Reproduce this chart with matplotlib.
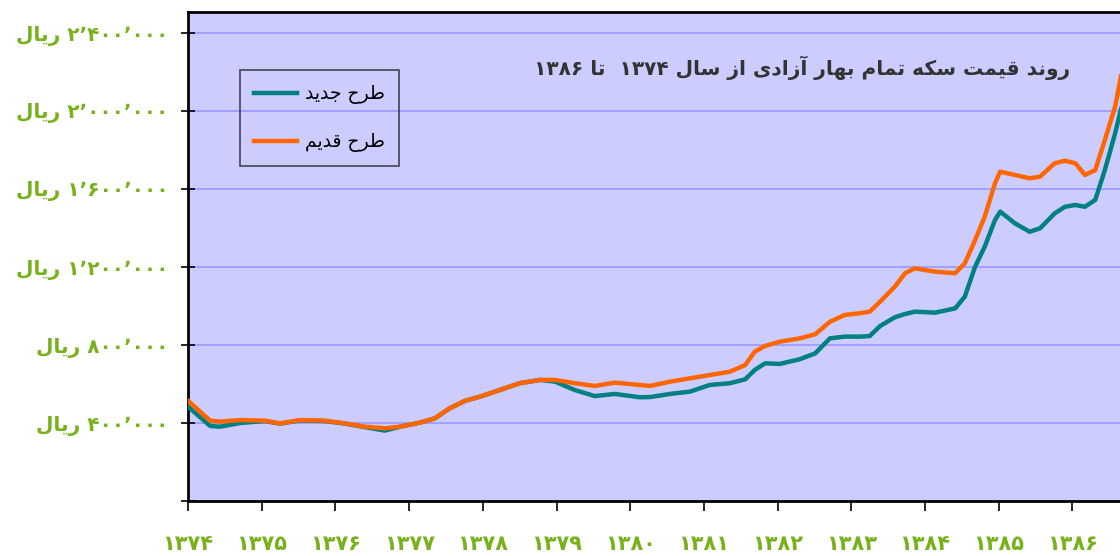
import re
import matplotlib
matplotlib.use("Agg")
import matplotlib.pyplot as plt
from matplotlib import font_manager, ft2font

# data: years (solar hijri) and price in rial
years = [1374.00, 1374.30, 1374.43, 1374.71, 1375.04, 1375.25, 1375.52, 1375.86,
         1376.13, 1376.40, 1376.67, 1376.88, 1377.15, 1377.35, 1377.55, 1377.76,
         1377.96, 1378.23, 1378.50, 1378.78, 1378.98, 1379.25, 1379.52, 1379.79,
         1380.13, 1380.27, 1380.54, 1380.81, 1381.08, 1381.35, 1381.56, 1381.69,
         1381.83, 1382.03, 1382.30, 1382.51, 1382.71, 1382.91, 1383.12, 1383.25,
         1383.39, 1383.59, 1383.73, 1383.86, 1384.14, 1384.41, 1384.54, 1384.68,
         1384.81, 1384.95, 1385.02, 1385.22, 1385.42, 1385.56, 1385.76, 1385.90,
         1386.04, 1386.17, 1386.31, 1386.44, 1386.58, 1386.67]

old_design = [514000, 412000, 407000, 415000, 412000, 398000, 415000, 412000,
              398000, 381000, 373000, 381000, 402000, 424000, 475000, 514000,
              535000, 569000, 604000, 621000, 621000, 604000, 590000, 607000,
              595000, 590000, 612000, 629000, 646000, 663000, 697000, 766000,
              795000, 817000, 834000, 855000, 919000, 954000, 963000, 971000,
              1022000, 1099000, 1168000, 1193000, 1176000, 1168000, 1219000, 1338000,
              1458000, 1629000, 1689000, 1672000, 1655000, 1663000, 1732000, 1745000,
              1732000, 1672000, 1697000, 1851000, 2022000, 2200000]

new_design = [484000, 385000, 381000, 400000, 410000, 397000, 413000, 410000,
              397000, 379000, 361000, 381000, 402000, 424000, 475000, 514000,
              535000, 569000, 604000, 621000, 612000, 569000, 538000, 549000,
              532000, 533000, 549000, 561000, 595000, 604000, 624000, 672000,
              706000, 703000, 727000, 757000, 834000, 843000, 843000, 846000,
              897000, 942000, 959000, 971000, 966000, 988000, 1048000, 1202000,
              1304000, 1441000, 1484000, 1424000, 1381000, 1398000, 1475000, 1509000,
              1518000, 1509000, 1544000, 1697000, 1886000, 2026000]

x_ticks = [1374, 1375, 1376, 1377, 1378, 1379, 1380, 1381, 1382, 1383, 1384, 1385, 1386]
y_ticks = [0, 400000, 800000, 1200000, 1600000, 2000000, 2400000]

title_text = "روند قیمت سکه تمام بهار آزادی از سال ۱۳۷۴  تا ۱۳۸۶"
legend_new = "طرح جدید"
legend_old = "طرح قدیم"

# ---- minimal arabic/persian shaping (no reshaper lib available) ----
reg_path = font_manager.findfont(font_manager.FontProperties(family="DejaVu Sans"))
reg_cmap = ft2font.FT2Font(reg_path).get_charmap()

FORMS = {
    "ا": (0xFE8D, 0xFE8E), "آ": (0xFE81, 0xFE82), "د": (0xFEA9, 0xFEAA),
    "ر": (0xFEAD, 0xFEAE), "ز": (0xFEAF, 0xFEB0), "و": (0xFEED, 0xFEEE),
    "ب": (0xFE8F, 0xFE90, 0xFE91, 0xFE92), "ت": (0xFE95, 0xFE96, 0xFE97, 0xFE98),
    "ج": (0xFE9D, 0xFE9E, 0xFE9F, 0xFEA0), "ح": (0xFEA1, 0xFEA2, 0xFEA3, 0xFEA4),
    "س": (0xFEB1, 0xFEB2, 0xFEB3, 0xFEB4), "ط": (0xFEC1, 0xFEC2, 0xFEC3, 0xFEC4),
    "ق": (0xFED5, 0xFED6, 0xFED7, 0xFED8), "ل": (0xFEDD, 0xFEDE, 0xFEDF, 0xFEE0),
    "م": (0xFEE1, 0xFEE2, 0xFEE3, 0xFEE4), "ن": (0xFEE5, 0xFEE6, 0xFEE7, 0xFEE8),
    "ه": (0xFEE9, 0xFEEA, 0xFEEB, 0xFEEC),
}
keheh = (0xFB8E, 0xFB8F, 0xFB90, 0xFB91)
farsi_yeh = (0xFBFC, 0xFBFD, 0xFBFE, 0xFBFF)
FORMS["ک"] = keheh if all(c in reg_cmap for c in keheh) else (0xFED9, 0xFEDA, 0xFEDB, 0xFEDC)
FORMS["ی"] = farsi_yeh if all(c in reg_cmap for c in farsi_yeh) else (0xFEEF, 0xFEF0, 0xFEF3, 0xFEF4)


def shape(text):
    out = []
    for i, ch in enumerate(text):
        if ch not in FORMS:
            out.append(ch)
            continue
        f = FORMS[ch]
        prev = text[i - 1] if i > 0 else ""
        nxt = text[i + 1] if i < len(text) - 1 else ""
        jp = prev in FORMS and len(FORMS[prev]) == 4
        jn = nxt in FORMS and len(f) == 4
        if jp and jn:
            out.append(chr(f[3]))
        elif jp:
            out.append(chr(f[1]))
        elif jn:
            out.append(chr(f[2]))
        else:
            out.append(chr(f[0]))
    s = "".join(out)
    runs = re.findall(r"[۰-۹٬]+|[^۰-۹٬]+", s)
    return "".join(r if re.match(r"[۰-۹٬]", r) else r[::-1] for r in reversed(runs))


FA_DIGITS = str.maketrans("0123456789", "۰۱۲۳۴۵۶۷۸۹")


def fa_num(v, sep=True):
    s = f"{v:,}".replace(",", "٬") if sep else str(v)
    return s.translate(FA_DIGITS)


y_labels = ["" if v == 0 else shape(fa_num(v) + " ریال") for v in y_ticks]
x_labels = [fa_num(v, sep=False) for v in x_ticks]

bold_path = font_manager.findfont(font_manager.FontProperties(family="DejaVu Sans", weight="bold"))
bold_cmap = ft2font.FT2Font(bold_path).get_charmap()
all_txt = "".join(y_labels) + shape(title_text)
BOLD = "bold" if all(ord(c) in bold_cmap for c in all_txt if not c.isspace()) else "normal"

plt.rcParams["font.family"] = ["DejaVu Sans"]

fig = plt.figure(figsize=(11.2, 5.56), dpi=100)
ax = fig.add_axes([188 / 1120, 55 / 556, 942 / 1120, 489 / 556])
ax.set_facecolor("#CCCCFF")

for v in y_ticks[1:]:
    ax.axhline(v, color="#9999FF", lw=1.2, zorder=1)

ax.plot(years, new_design, color="#008080", lw=3.2, label=shape(legend_new), zorder=3)
ax.plot(years, old_design, color="#FF6600", lw=3.2, label=shape(legend_old), zorder=4)

ax.set_xlim(1374, 1374 + 942 / 73.7)
ax.set_ylim(0, 489 * 400000 / 78)

ax.set_xticks(x_ticks)
ax.set_xticklabels(x_labels)
ax.set_yticks(y_ticks)
ax.set_yticklabels(y_labels)

green = "#77B21C"
ax.tick_params(axis="y", direction="inout", length=10, width=1.2, pad=9,
               labelsize=14.5, labelcolor=green)
ax.tick_params(axis="x", direction="out", length=7, width=1.2, pad=17,
               labelsize=15, labelcolor=green)
for lab in ax.get_xticklabels() + ax.get_yticklabels():
    lab.set_fontweight(BOLD)

for side in ["left", "bottom", "top"]:
    ax.spines[side].set_linewidth(2)
    ax.spines[side].set_color("black")
ax.spines["right"].set_visible(False)

ax.text(1070 / 1120, 1 - 68 / 556, shape(title_text), transform=fig.transFigure,
        ha="right", va="center", fontsize=14.5, fontweight=BOLD, color="#333333")

leg = ax.legend(loc="upper left", bbox_to_anchor=(240 / 1120, 1 - 70 / 556),
                bbox_transform=fig.transFigure, borderaxespad=0, fontsize=13.5,
                frameon=True, fancybox=False, edgecolor="#222222",
                handlelength=2.3, labelspacing=1.5, borderpad=0.75, handletextpad=0.4)
leg.get_frame().set_facecolor("none")
leg.get_frame().set_linewidth(1.2)

fig.savefig("out.png", dpi=100)
